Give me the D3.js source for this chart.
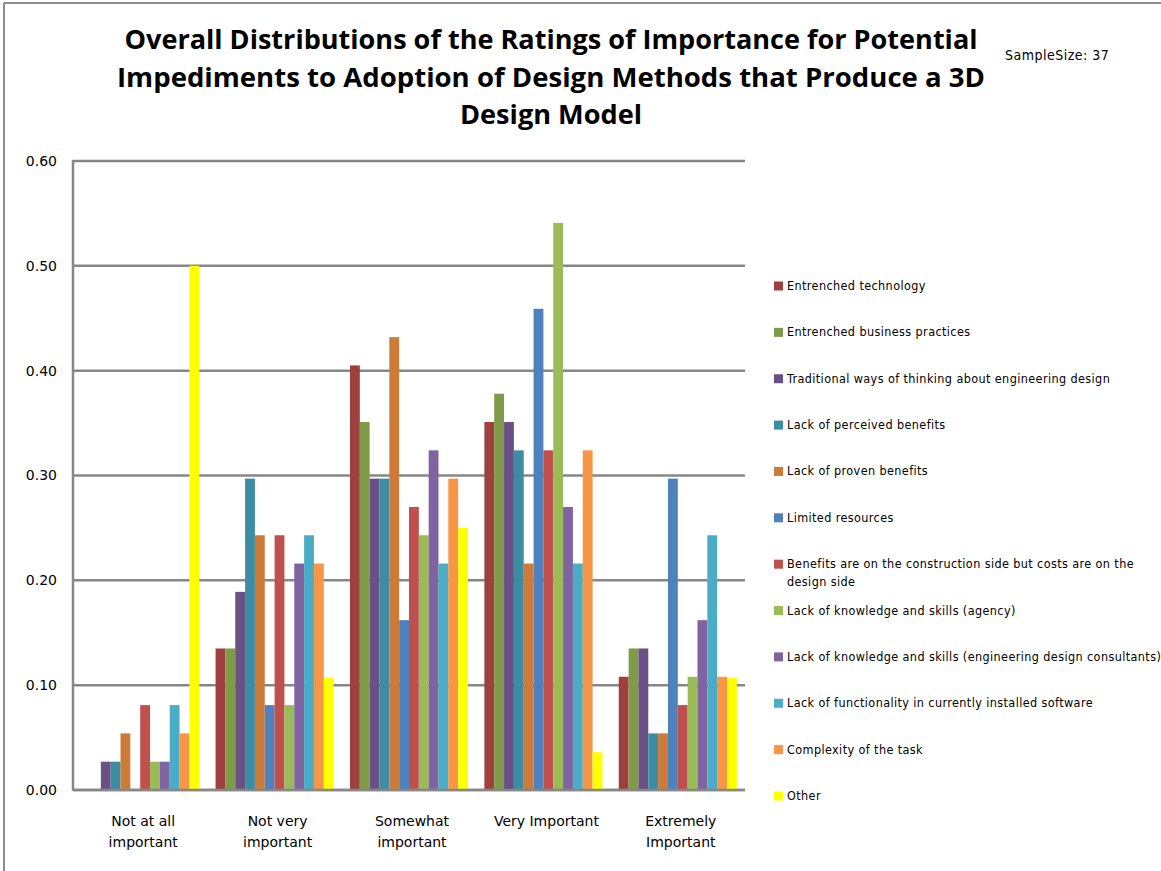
<!DOCTYPE html>
<html>
<head>
<meta charset="utf-8">
<script src="https://cdn.jsdelivr.net/npm/d3@7"></script>
<style>
  body { margin: 0; background: #fff; }
  svg { display: block; }
</style>
</head>
<body>
<svg id="chart" width="1161" height="871"></svg>
<script>
const categories = [
  ["Not at all", "important"],
  ["Not very", "important"],
  ["Somewhat", "important"],
  ["Very Important"],
  ["Extremely", "Important"]
];

const seriesNames = [
  "Entrenched technology",
  "Entrenched business practices",
  "Traditional ways of thinking about engineering design",
  "Lack of perceived benefits",
  "Lack of proven benefits",
  "Limited resources",
  "Benefits are on the construction side but costs are on the design side",
  "Lack of knowledge and skills (agency)",
  "Lack of knowledge and skills (engineering design consultants)",
  "Lack of functionality in currently installed software",
  "Complexity of the task",
  "Other"
];

const seriesColors = [
  "#9e413e", "#7f9a48", "#695185", "#3c8da3", "#cc7b38", "#4f81bd",
  "#c0504d", "#9bbb59", "#8064a2", "#4bacc6", "#f79646", "#ffff00"
];

// one row per series, one value per category
const values = [
  [0.000, 0.135, 0.405, 0.351, 0.108],
  [0.000, 0.135, 0.351, 0.378, 0.135],
  [0.027, 0.189, 0.297, 0.351, 0.135],
  [0.027, 0.297, 0.297, 0.324, 0.054],
  [0.054, 0.243, 0.432, 0.216, 0.054],
  [0.000, 0.081, 0.162, 0.459, 0.297],
  [0.081, 0.243, 0.270, 0.324, 0.081],
  [0.027, 0.081, 0.243, 0.541, 0.108],
  [0.027, 0.216, 0.324, 0.270, 0.162],
  [0.081, 0.243, 0.216, 0.216, 0.243],
  [0.054, 0.216, 0.297, 0.324, 0.108],
  [0.500, 0.107, 0.250, 0.036, 0.107]
];

const yTicks = [0, 0.1, 0.2, 0.3, 0.4, 0.5, 0.6];

const titleLines = [
  "Overall Distributions of the Ratings of Importance for Potential",
  "Impediments to Adoption of Design Methods that Produce a 3D",
  "Design Model"
];
const titleWidths = [853, 868, 182];

const svg = d3.select("#chart");
const plot = { left: 73, right: 745, top: 161, bottom: 790 };

// outer frame (only top and left show)
svg.append("line").attr("x1", 4).attr("x2", 1161).attr("y1", 3).attr("y2", 3)
  .attr("stroke", "#8c8c8c").attr("stroke-width", 2);
svg.append("line").attr("x1", 4).attr("x2", 4).attr("y1", 3).attr("y2", 871)
  .attr("stroke", "#8c8c8c").attr("stroke-width", 2);

const catIdx = d3.range(categories.length);
const serIdx = d3.range(seriesNames.length);

const x0 = d3.scaleBand().domain(catIdx).range([plot.left, plot.right]).padding(0);
const x1 = d3.scaleBand().domain(serIdx).range([0, x0.bandwidth()])
  .paddingInner(0).paddingOuter(0.83);
const y = d3.scaleLinear().domain([0, 0.6]).range([plot.bottom, plot.top]);

// gridlines
svg.append("g")
  .selectAll("line")
  .data(yTicks)
  .join("line")
  .attr("x1", plot.left).attr("x2", plot.right)
  .attr("y1", d => y(d)).attr("y2", d => y(d))
  .attr("stroke", "#878787").attr("stroke-width", 2.5);

// bars
svg.append("g")
  .selectAll("g")
  .data(serIdx)
  .join("g")
  .attr("fill", s => seriesColors[s])
  .selectAll("rect")
  .data(s => values[s].map((v, c) => ({ s, c, v })))
  .join("rect")
  .attr("x", d => x0(d.c) + x1(d.s))
  .attr("width", x1.bandwidth())
  .attr("y", d => y(d.v))
  .attr("height", d => y(0) - y(d.v));

// axis lines
svg.append("line").attr("x1", plot.left).attr("x2", plot.left)
  .attr("y1", plot.top - 1).attr("y2", plot.bottom + 1)
  .attr("stroke", "#878787").attr("stroke-width", 2.5);
svg.append("line").attr("x1", plot.left).attr("x2", plot.right)
  .attr("y1", plot.bottom).attr("y2", plot.bottom)
  .attr("stroke", "#878787").attr("stroke-width", 2.5);

// y tick labels
const yAxis = d3.axisLeft(y).tickValues(yTicks).tickFormat(d3.format(".2f"))
  .tickSize(0).tickPadding(16);
const ya = svg.append("g").attr("transform", `translate(${plot.left},0)`).call(yAxis);
ya.select(".domain").remove();
ya.selectAll("text")
  .attr("font-family", "DejaVu Sans, Verdana, sans-serif")
  .attr("font-size", 14).attr("fill", "#000");

// category labels
const catG = svg.append("g")
  .attr("font-family", "DejaVu Sans, Verdana, sans-serif")
  .attr("font-size", 14).attr("text-anchor", "middle");
catIdx.forEach(c => {
  const t = catG.append("text")
    .attr("x", x0(c) + x0.bandwidth() / 2 + 3)
    .attr("y", 826);
  categories[c].forEach((line, i) => {
    t.append("tspan")
      .attr("x", x0(c) + x0.bandwidth() / 2 + 3)
      .attr("dy", i === 0 ? 0 : 21)
      .text(line);
  });
});

// title
const titleG = svg.append("g")
  .attr("font-family", "Open Sans, Noto Sans, sans-serif")
  .attr("font-weight", "bold").attr("font-size", 27.5)
  .attr("text-anchor", "middle");
titleLines.forEach((line, i) => {
  titleG.append("text")
    .attr("x", 551).attr("y", 49 + i * 37.5)
    .attr("textLength", titleWidths[i])
    .attr("lengthAdjust", "spacingAndGlyphs")
    .text(line);
});

svg.append("text")
  .attr("x", 1005).attr("y", 60)
  .attr("font-family", "DejaVu Sans Condensed, DejaVu Sans, sans-serif")
  .attr("font-size", 14).attr("letter-spacing", 0.5)
  .text("SampleSize: 37");

// legend
const legendY = d3.scaleLinear().domain([0, 11]).range([286, 796]);
const legendWrap = { 6: ["Benefits are on the construction side but costs are on the", "design side"] };
const leg = svg.append("g")
  .attr("font-family", "DejaVu Sans Condensed, DejaVu Sans, sans-serif")
  .attr("font-size", 12.5).attr("letter-spacing", 0.4);
serIdx.forEach(s => {
  const cy = legendY(s);
  leg.append("rect")
    .attr("x", 774).attr("y", cy - 4.5)
    .attr("width", 9).attr("height", 9)
    .attr("fill", seriesColors[s]);
  const lines = legendWrap[s] || [seriesNames[s]];
  lines.forEach((line, i) => {
    leg.append("text")
      .attr("x", 787).attr("y", cy + 4 + i * 18)
      .text(line);
  });
});
</script>
</body>
</html>
